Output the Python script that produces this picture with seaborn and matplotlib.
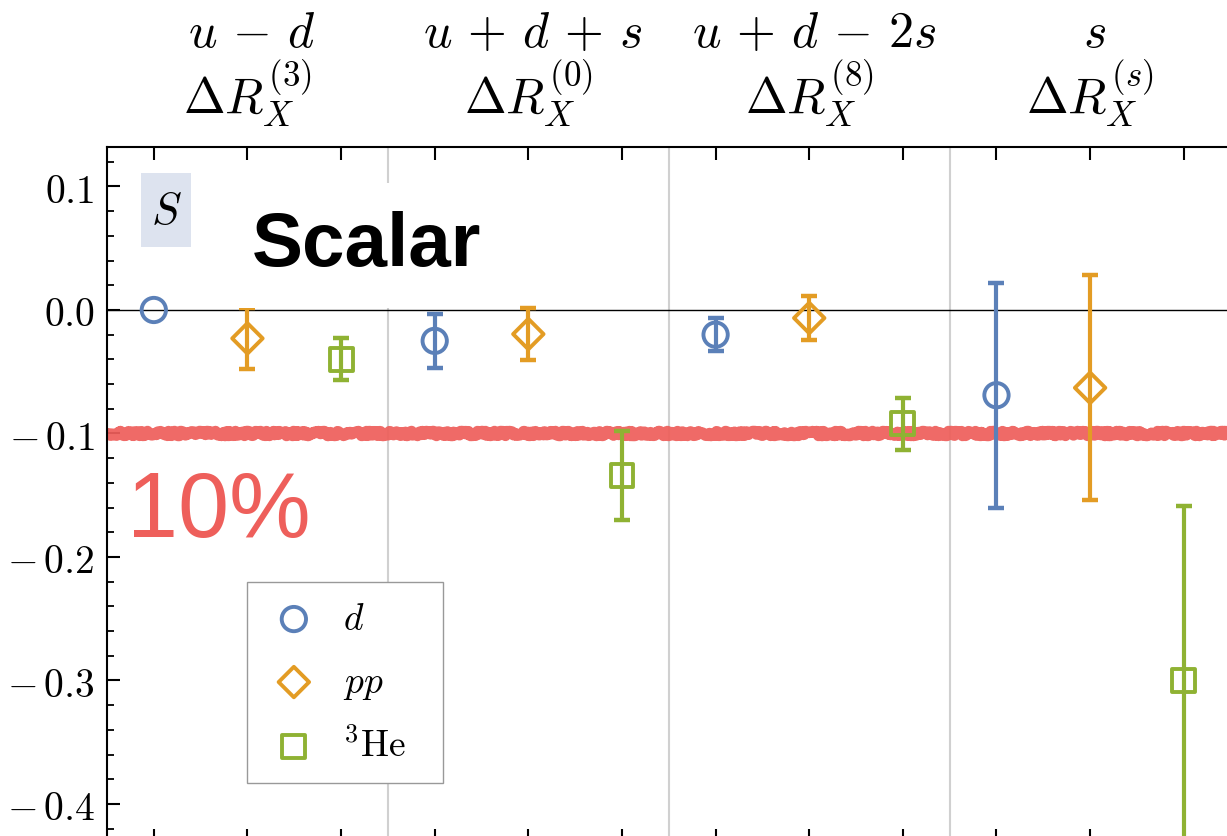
import numpy as np
import pandas as pd
import matplotlib
matplotlib.use("Agg")
import matplotlib.pyplot as plt
import matplotlib.transforms as mtransforms
from matplotlib.patches import Rectangle
from matplotlib.ticker import FixedLocator, FixedFormatter, MultipleLocator
import seaborn as sns

# ---- data -------------------------------------------------------------
flavours = [r"$u\,-\,d$", r"$u\,+\,d\,+\,s$", r"$u\,+\,d\,-\,2s$", r"$s$"]
ratios = [r"$\Delta R_X^{(3)}$", r"$\Delta R_X^{(0)}$",
          r"$\Delta R_X^{(8)}$", r"$\Delta R_X^{(s)}$"]
nuclei = ["d", "pp", "3He"]
nucleus_labels = [r"$d$", r"$pp$", r"$^{3}\mathrm{He}$"]

d_values = [0.000, -0.025, -0.020, -0.069]
d_errors = [0.000, 0.022, 0.0135, 0.091]
pp_values = [-0.023, -0.0195, -0.0065, -0.063]
pp_errors = [0.025, 0.021, 0.0175, 0.091]
he3_values = [-0.040, -0.134, -0.092, -0.300]
he3_errors = [0.017, 0.036, 0.021, 0.141]

threshold = -0.10
ytick_values = [-0.4, -0.3, -0.2, -0.1, 0.0, 0.1]
ytick_labels = [r"$-\,0.4$", r"$-\,0.3$", r"$-\,0.2$", r"$-\,0.1$",
                r"$0.0$", r"$0.1$"]

# ---- long-form table ----------------------------------------------------
rows = []
for n_idx, (nuc, vals, errs) in enumerate(zip(nuclei,
                                              [d_values, pp_values, he3_values],
                                              [d_errors, pp_errors, he3_errors])):
    for g_idx, (v, e) in enumerate(zip(vals, errs)):
        rows.append({"nucleus": nuc, "group": g_idx,
                     "pos": 3 * g_idx + n_idx, "value": v, "err": e})
df = pd.DataFrame(rows)

# ---- style ------------------------------------------------------------
sns.set_theme(style="ticks")
plt.rcParams.update({
    "mathtext.fontset": "cm",
    "font.family": ["DejaVu Sans"],
    "text.color": "black",
    "axes.labelcolor": "black",
    "xtick.color": "black",
    "ytick.color": "black",
    "axes.edgecolor": "black",
    "axes.linewidth": 1.5,
    "xtick.direction": "in",
    "ytick.direction": "in",
    "xtick.top": True,
    "ytick.right": False,
})

colors = {"d": "#5b80b8", "pp": "#e39c24", "3He": "#8fb233"}
markers = {"d": "o", "pp": "D", "3He": "s"}
msizes = {"d": 17.5, "pp": 15.5, "3He": 16.5}
red = "#ee5f5b"

fig = plt.figure(figsize=(12.27, 8.37), dpi=100)
ax = fig.add_axes([0.0872, -0.006, 0.9157, 0.8292])

# group separators and reference lines
for sep in [2.5, 5.5, 8.5]:
    ax.axvline(sep, color="#d0d0d0", lw=1.5, zorder=0)
ax.axhline(0.0, color="black", lw=1.0, zorder=1)
band = ax.axhline(threshold, color=red, lw=8.0, zorder=1.5, alpha=0.93)
band.set_sketch_params(scale=2.2, length=3.5, randomness=25.0)

# error bars and hollow markers
for nuc, lab in zip(nuclei, nucleus_labels):
    sub = df[df["nucleus"] == nuc]
    with_err = sub[sub["err"] > 0]
    ax.errorbar(with_err["pos"], with_err["value"], yerr=with_err["err"],
                fmt="none", ecolor=colors[nuc], elinewidth=3.0,
                capsize=5.8, capthick=3.2, zorder=2)
    sns.scatterplot(data=sub, x="pos", y="value", ax=ax,
                    marker=markers[nuc], s=msizes[nuc] ** 2,
                    facecolor="none", edgecolor=colors[nuc],
                    linewidth=2.8, zorder=3, label=lab)

# axes limits and ticks
ax.set_xlim(-0.5, 11.5)
ax.set_ylim(-0.43, 0.132)
ax.xaxis.set_major_locator(FixedLocator(np.arange(12)))
ax.xaxis.set_major_formatter(FixedFormatter([""] * 12))
ax.yaxis.set_major_locator(FixedLocator(ytick_values))
ax.yaxis.set_major_formatter(FixedFormatter(ytick_labels))
ax.yaxis.set_minor_locator(MultipleLocator(0.02))
ax.tick_params(which="major", length=9, width=1.5, labelsize=28.5, pad=9)
ax.tick_params(which="minor", length=5, width=1.3)
ax.tick_params(axis="x", which="minor", bottom=False, top=False)
ax.set_xlabel("")
ax.set_ylabel("")

# flavour combination headers
trans = mtransforms.blended_transform_factory(ax.transData, ax.transAxes)
for g, (top, bottom) in enumerate(zip(flavours, ratios)):
    xc = 3 * g + 1
    ax.text(xc + 0.05, 1.145, top, transform=trans, ha="center",
            va="baseline", fontsize=36, clip_on=False)
    ax.text(xc, 1.050, bottom, transform=trans, ha="center", va="baseline",
            fontsize=36, clip_on=False)

# channel tag and title
ax.add_patch(Rectangle((0.0303, 0.856), 0.0445, 0.1066, transform=ax.transAxes,
                       facecolor="#dde3ef", edgecolor="none", zorder=4))
ax.text(0.0525, 0.909, r"$S$", transform=ax.transAxes, ha="center",
        va="center", fontsize=32, zorder=5)
ax.text(0.129, 0.830, "Scalar", transform=ax.transAxes, ha="left",
        va="baseline", fontsize=55, fontweight="bold", color="black",
        family=["Liberation Sans"], zorder=5,
        bbox=dict(boxstyle="square,pad=0.35", facecolor="white",
                  edgecolor="none"))
ax.text(0.0175, 0.439, "10%", transform=ax.transAxes, ha="left",
        va="baseline", fontsize=66, color=red,
        family=["Liberation Sans"], zorder=5)

# legend
leg = ax.legend(loc="upper left", bbox_to_anchor=(0.1246, 0.0893, 0.1744, 0.2837),
                mode="expand", borderaxespad=0, fontsize=27, frameon=True,
                fancybox=False, edgecolor="#999999", framealpha=1,
                labelspacing=0.72, borderpad=0.5, handletextpad=0.56,
                handlelength=1.5, scatterpoints=1)
leg.get_frame().set_linewidth(1.0)
leg.set_zorder(6)

fig.savefig("out.png", dpi=100)
